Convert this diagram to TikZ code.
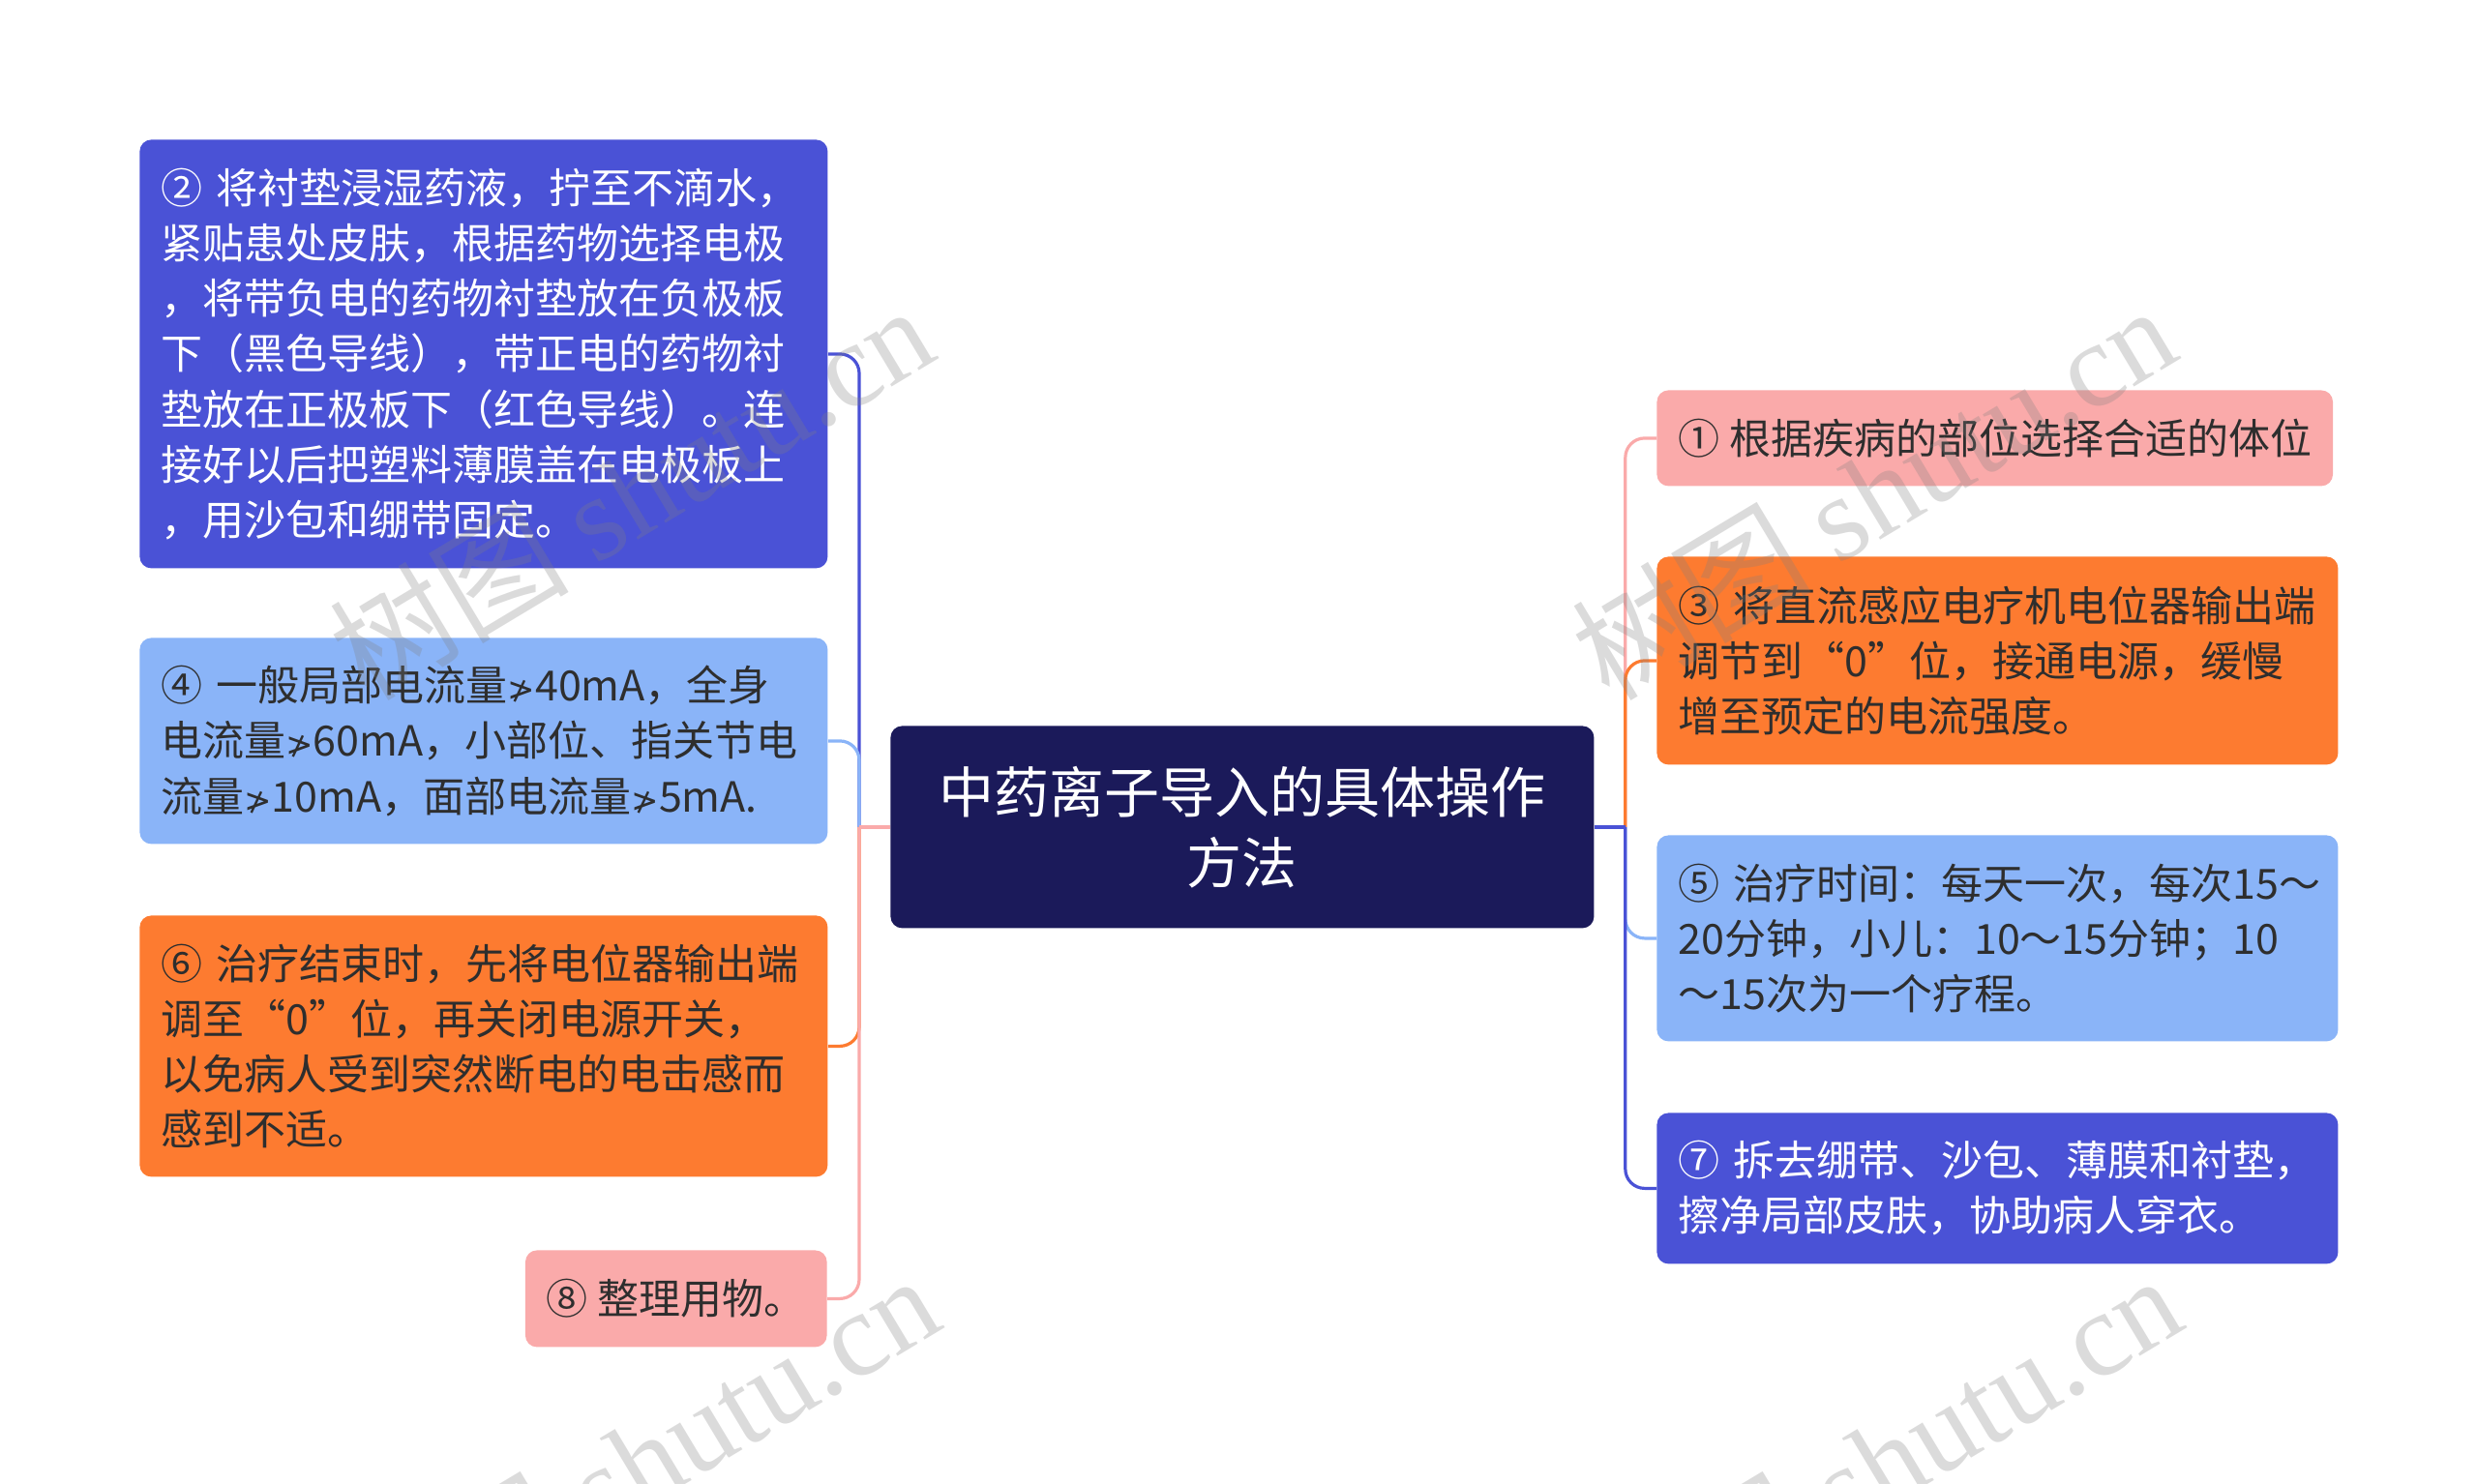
\documentclass[tikz,border=0pt]{standalone}
\usepackage{fontspec}
\setmainfont{Noto Sans CJK SC}
\newfontfamily\wmlatin{Liberation Serif}
\newfontfamily\symfnt{DejaVu Sans}
\newcommand{\ngtsym}{{\symfnt\fontsize{17pt}{17pt}\selectfont ≯}}
\definecolor{cnavy}{HTML}{1B1A5A}
\definecolor{cblue}{HTML}{4A52D6}
\definecolor{clight}{HTML}{8AB4F8}
\definecolor{corange}{HTML}{FD7B30}
\definecolor{cpink}{HTML}{FAAAAA}
\definecolor{ctext}{HTML}{2E2E2E}
\begin{document}
\begin{tikzpicture}[x=1pt,y=-1pt,
  box/.style={rounded corners=6pt, inner xsep=11pt, inner ysep=0pt, align=left,
    anchor=north west, font=\fontsize{21.5pt}{28.6pt}\selectfont},
  widebox/.style={box, minimum width=355.5pt, text width=333.5pt},
  rbox/.style={box, minimum width=352pt, text width=330pt},
  conn/.style={line width=1.6pt, rounded corners=10pt},
  wm/.style={text=gray, opacity=0.28, rotate=31, inner sep=0pt,
    font=\fontsize{62pt}{62pt}\selectfont}]
\useasboundingbox (0,0) rectangle (1280,766.5);
\fill[white] (0,0) rectangle (1280,766.5);

% centre
\node[box, fill=cnavy, text=white, align=center, inner xsep=0pt,
  minimum width=363.5pt, minimum height=104.5pt,
  font=\fontsize{28.5pt}{36.5pt}\selectfont] (c) at (460,375)
  {中药离子导入的具体操作\\方法};

% left boxes
\node[widebox, fill=cblue, text=white, minimum height=221.5pt] (n2) at (72,72)
  {②~将衬垫浸湿药液，拧至不滴水，\\紧贴患处皮肤，根据药物选择电极\\，将带负电的药物衬垫放在负极板\\下（黑色导线），带正电的药物衬\\垫放在正极板下（红色导线）。连\\接好以后把塑料薄膜盖在电极板上\\，用沙包和绷带固定。};
\node[widebox, fill=clight, text=ctext, minimum height=106.5pt] (n4) at (72,329.5)
  {④~一般局部电流量\ngtsym40mA，全身\\电流量\ngtsym60mA，小部位、指关节电\\流量\ngtsym10mA，面部电流量\ngtsym5mA.};
\node[widebox, fill=corange, text=ctext, minimum height=135pt] (n6) at (72,473)
  {⑥~治疗结束时，先将电位器输出端\\调至“0”位，再关闭电源开关，\\以免病人受到突然断电的电击感而\\感到不适。};
\node[box, fill=cpink, text=ctext, minimum height=50pt, anchor=north east] (n8) at (427.5,646)
  {⑧~整理用物。};

% right boxes
\node[box, fill=cpink, text=ctext, minimum height=49.5pt] (n1) at (856,201.5)
  {①~根据疾病的部位选择合适的体位};
\node[rbox, fill=corange, text=ctext, minimum height=107.5pt] (n3) at (856,287.5)
  {③~将直流感应电疗机电位器输出端\\调节到“0”位，接通电源，缓慢\\增至预定的电流强度。};
\node[rbox, fill=clight, text=ctext, minimum height=106.5pt] (n5) at (856,431.5)
  {⑤~治疗时间：每天一次，每次15～\\20分钟，小儿：10～15分钟；10\\～15次为一个疗程。};
\node[rbox, fill=cblue, text=white, minimum height=78pt] (n7) at (856,575)
  {⑦~拆去绷带、沙包、薄膜和衬垫，\\擦净局部皮肤，协助病人穿衣。};

% connectors
\path (c.west) ++(-16,0) coordinate (jl);
\path (c.east) ++(16,0) coordinate (jr);
\draw[conn, cblue] (jl) |- (n2.east);
\draw[conn, clight] (jl) |- (n4.east);
\draw[conn, corange] (jl) |- (n6.east);
\draw[conn, cpink] (jl) |- (n8.east);
\draw[line width=1.6pt, cpink] (c.west) -- (jl);
\draw[conn, cpink] (jr) |- (n1.west);
\draw[conn, corange] (jr) |- (n3.west);
\draw[conn, clight] (jr) |- (n5.west);
\draw[conn, cblue] (jr) |- (n7.west);
\draw[line width=1.6pt, cblue] (c.east) -- (jr);

% watermark
\node[wm] (w1) at (326,254) {树图 {\wmlatin shutu.cn}};
\node[wm] (w2) at (968,254) {树图 {\wmlatin shutu.cn}};
\node[wm] (w3) at (329,755) {树图 {\wmlatin shutu.cn}};
\node[wm] (w4) at (971,755) {树图 {\wmlatin shutu.cn}};
\end{tikzpicture}
\end{document}
